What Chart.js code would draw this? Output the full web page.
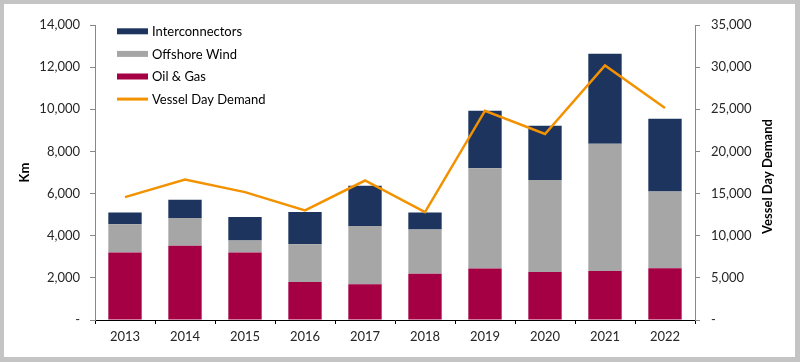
<!DOCTYPE html>
<html>
<head>
<meta charset="utf-8">
<script src="https://cdn.jsdelivr.net/npm/chart.js@4.4.1/dist/chart.umd.min.js"></script>
<style>
  html, body { margin: 0; padding: 0; background: #fff; }
  .frame {
    width: 800px; height: 362px; box-sizing: border-box;
    border: 4px solid #c4c4c4; border-right-width: 5px; border-bottom-width: 5px;
    background: #fff;
  }
  .frame canvas { display: block; }
</style>
</head>
<body>
<div class="frame"><canvas id="chart" width="791" height="353"></canvas></div>
<script>
const years = ['2013', '2014', '2015', '2016', '2017', '2018', '2019', '2020', '2021', '2022'];

const oilGas = [3200, 3520, 3200, 1800, 1700, 2200, 2450, 2280, 2330, 2460];
const offshoreWind = [1350, 1320, 570, 1800, 2760, 2100, 4750, 4370, 6040, 3640];
const interconnectors = [550, 870, 1120, 1530, 1910, 800, 2730, 2570, 4260, 3450];
const vesselDays = [14580, 16670, 15170, 13000, 16550, 12800, 24830, 22070, 30190, 25150];

const kmTicks = { min: 0, max: 14000, step: 2000 };
const dayTicks = { min: 0, max: 35000, step: 5000 };

const FONT = 'Lato, "Noto Sans", sans-serif';
const TEXT = '#262626';

const fmt = (v) => (v === 0 ? '-' : v.toLocaleString('en-US'));

// legend is drawn inside the plot, top-left, in this order
const legendOrder = [2, 1, 0, 3];

const insideLegend = {
  id: 'insideLegend',
  afterDraw(chart) {
    const ctx = chart.ctx;
    ctx.save();
    ctx.font = '13px ' + FONT;
    ctx.textBaseline = 'middle';
    ctx.textAlign = 'left';
    legendOrder.forEach((idx, i) => {
      const ds = chart.data.datasets[idx];
      const y = 27.3 + i * 22.6;
      if (ds.type === 'line') {
        ctx.fillStyle = ds.borderColor;
        ctx.fillRect(113, y - 1.5, 31, 3);
      } else {
        ctx.fillStyle = ds.backgroundColor;
        ctx.fillRect(113, y - 3, 31, 6);
      }
      ctx.fillStyle = '#000';
      ctx.fillText(ds.label, 148, y + 0.5);
    });

    // right axis title reads bottom-to-top
    const a = chart.chartArea;
    ctx.translate(764, (a.top + a.bottom) / 2 + 4);
    ctx.rotate(-Math.PI / 2);
    ctx.textAlign = 'center';
    ctx.font = 'bold 13px ' + FONT;
    ctx.fillStyle = '#000';
    ctx.fillText('Vessel Day Demand', 0, 0);
    ctx.restore();
  }
};

const ctx = document.getElementById('chart');

new Chart(ctx, {
  data: {
    labels: years,
    datasets: [
      {
        type: 'bar',
        label: 'Oil & Gas',
        data: oilGas,
        backgroundColor: '#a50044',
        yAxisID: 'y',
        order: 1,
      },
      {
        type: 'bar',
        label: 'Offshore Wind',
        data: offshoreWind,
        backgroundColor: '#a6a6a6',
        yAxisID: 'y',
        order: 1,
      },
      {
        type: 'bar',
        label: 'Interconnectors',
        data: interconnectors,
        backgroundColor: '#1d355e',
        yAxisID: 'y',
        order: 1,
      },
      {
        type: 'line',
        label: 'Vessel Day Demand',
        data: vesselDays,
        borderColor: '#f39200',
        backgroundColor: '#f39200',
        borderWidth: 2.5,
        pointRadius: 0,
        tension: 0,
        yAxisID: 'y1',
        order: 0,
      },
    ],
  },
  options: {
    responsive: false,
    animation: false,
    layout: { padding: { top: 21, left: 0, right: 0, bottom: 0 } },
    datasets: {
      bar: { categoryPercentage: 1, barPercentage: 0.556 },
    },
    plugins: {
      legend: { display: false },
      tooltip: { enabled: false },
    },
    scales: {
      x: {
        stacked: true,
        grid: { drawOnChartArea: false, tickLength: 4, color: '#000', offset: true },
        border: { color: '#000', width: 1 },
        ticks: { color: TEXT, font: { family: FONT, size: 13 }, padding: 5, maxRotation: 0 },
        afterFit: (s) => { s.height = 37; },
      },
      y: {
        position: 'left',
        stacked: true,
        min: kmTicks.min,
        max: kmTicks.max,
        grid: { drawOnChartArea: false, tickLength: 5, color: '#888' },
        border: { color: '#888', width: 1 },
        ticks: {
          stepSize: kmTicks.step,
          color: TEXT,
          padding: 10,
          font: { family: FONT, size: 13 },
          callback: (v) => fmt(v),
        },
        title: {
          display: true,
          text: 'Km',
          color: '#000',
          font: { family: FONT, size: 13, weight: 'bold' },
          padding: { top: 13, bottom: 0 },
        },
        afterFit: (s) => { s.width = 91; },
      },
      y1: {
        position: 'right',
        min: dayTicks.min,
        max: dayTicks.max,
        grid: { drawOnChartArea: false, tickLength: 5, color: '#888' },
        border: { color: '#888', width: 1 },
        ticks: {
          stepSize: dayTicks.step,
          color: TEXT,
          padding: 11,
          font: { family: FONT, size: 13 },
          callback: (v) => fmt(v),
        },
        afterFit: (s) => { s.width = 100; },
      },
    },
  },
  plugins: [insideLegend],
});
</script>
</body>
</html>
